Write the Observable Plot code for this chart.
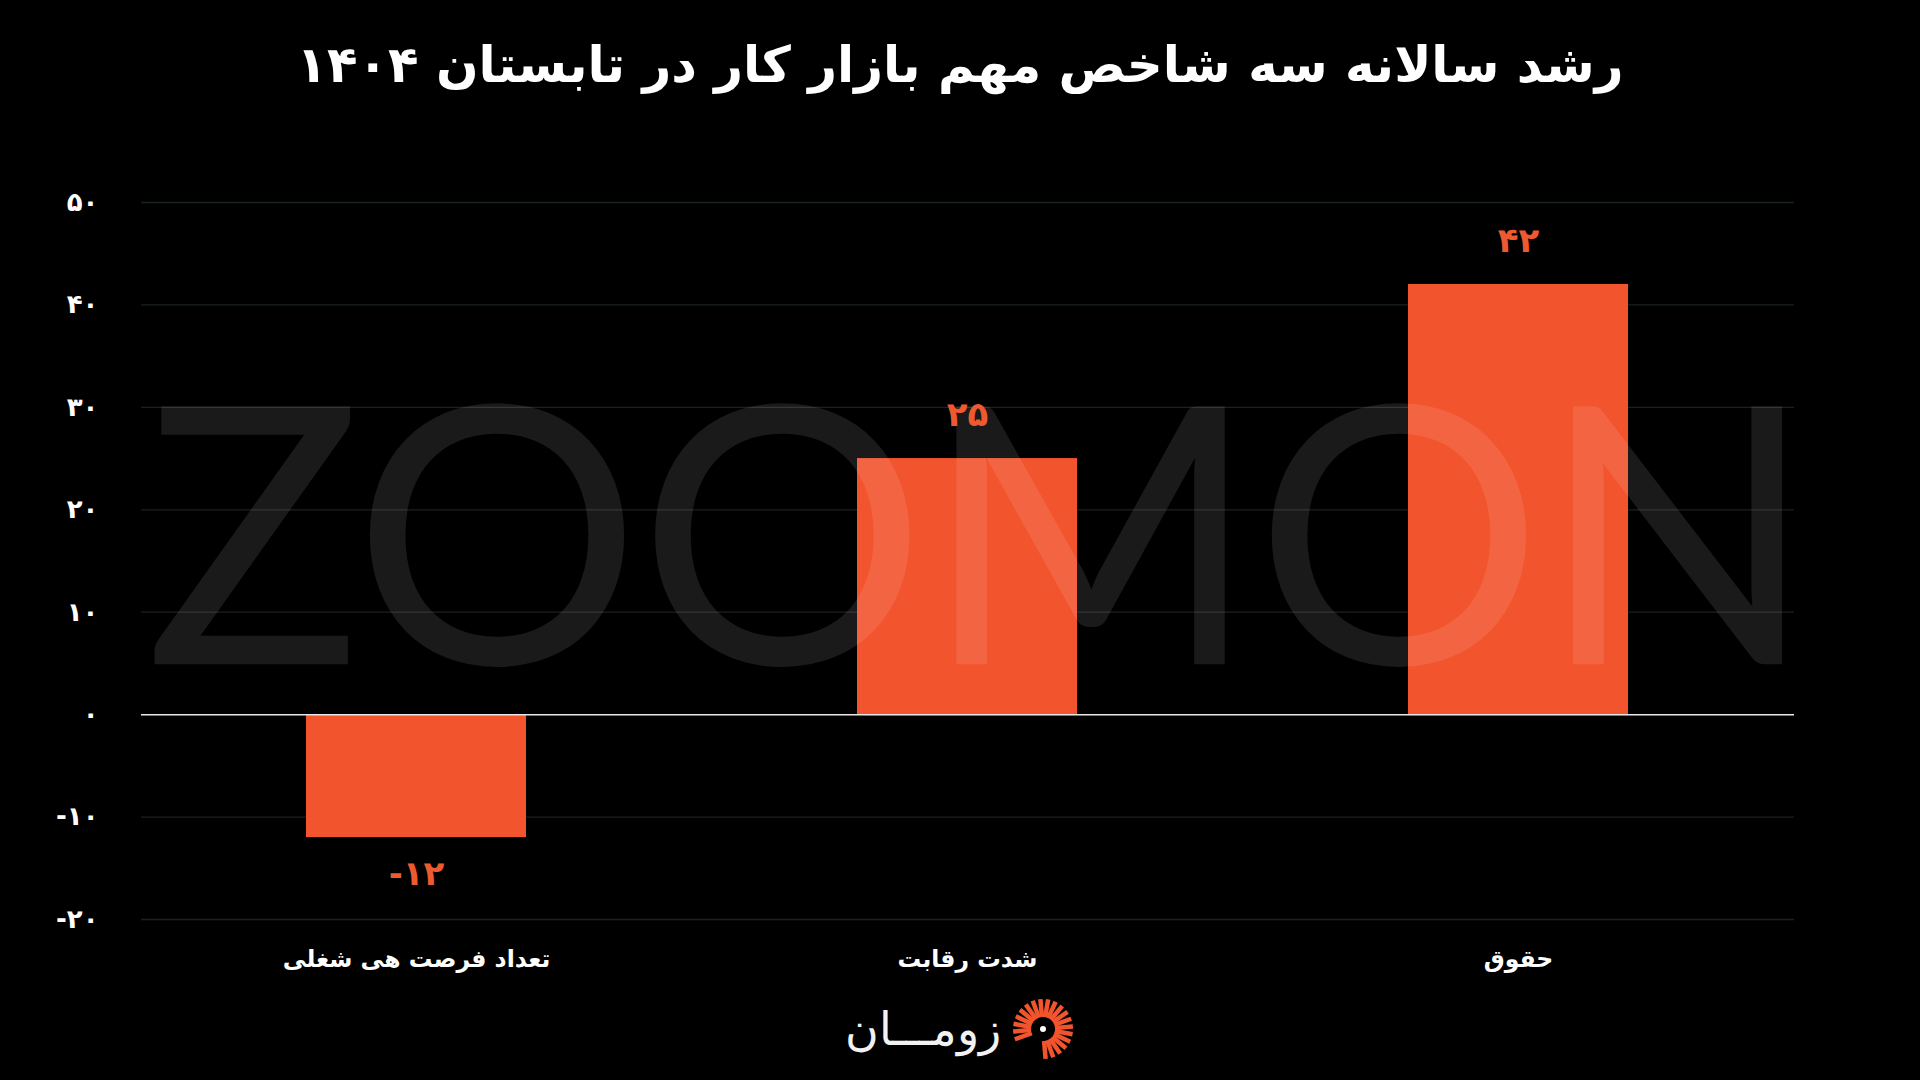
<!DOCTYPE html>
<html lang="fa">
<head>
<meta charset="utf-8">
<script src="https://cdn.jsdelivr.net/npm/d3@7"></script>
<script src="https://cdn.jsdelivr.net/npm/@observablehq/plot@0.6"></script>
<style>
  html, body { margin: 0; padding: 0; background: #000; }
  #page { position: relative; width: 1920px; height: 1080px; background: #000; overflow: hidden; font-family: "DejaVu Sans", sans-serif; }
  #title { height: 130px; display: flex; align-items: center; justify-content: center; color: #fff; font-weight: bold; font-size: 50px; direction: rtl; box-sizing: border-box; }
  #chart { position: absolute; top: 130px; left: 0; }
  #logo { position: absolute; top: 996px; left: 0; width: 1920px; height: 66px; display: flex; justify-content: center; align-items: center; gap: 10px; }
  #logo .word { color: #f2f2f2; font-size: 46px; font-weight: 300; font-family: "DejaVu Sans", sans-serif; direction: rtl; line-height: 1; }
</style>
</head>
<body>
<div id="page">
  <div id="title">رشد سالانه سه شاخص مهم بازار کار در تابستان ۱۴۰۴</div>
  <div id="chart"></div>
  <div id="logo"><span class="word">زومـــان</span><span id="icon"></span></div>
</div>
<script>
const categories = ["تعداد فرصت هی شغلی", "شدت رقابت", "حقوق"];
const values = [-12, 25, 42];
const yTicks = [-20, -10, 0, 10, 20, 30, 40, 50];
const watermark = "ZOOMON";

const data = categories.map((c, i) => ({category: c, value: values[i]}));
const fa = d => (d < 0 ? "-" : "") + String(Math.abs(d)).replace(/\d/g, c => "۰۱۲۳۴۵۶۷۸۹"[+c]);

const barColor = "#F2542D";
const labelColor = "#EE5A30";

const chart = Plot.plot({
  width: 1920,
  height: 860,
  marginTop: 72,
  marginBottom: 71,
  marginLeft: 141,
  marginRight: 126,
  style: {background: "transparent", color: "#fff", fontFamily: "DejaVu Sans, sans-serif"},
  x: {domain: categories, paddingInner: 0.6, paddingOuter: 0.3, axis: null},
  y: {domain: [-20, 50], axis: null},
  marks: [
    Plot.gridY(yTicks, {stroke: "#1a2125", strokeOpacity: 1, strokeWidth: 1.3}),
    Plot.barY(data, {x: "category", y: "value", fill: barColor}),
    Plot.ruleY([0], {stroke: "#e6e6e6", strokeWidth: 1.5}),
    Plot.text([watermark], {frameAnchor: "middle", dx: 12, dy: -12, text: d => d, fill: "#ffffff", fillOpacity: 0.1, fontSize: 360, fontWeight: 400, fontFamily: "Lato, sans-serif", className: "wm"}),
    Plot.axisY(yTicks, {label: null, tickSize: 0, tickPadding: 43, tickFormat: fa, fontSize: 26, fontWeight: "bold", fill: "#fff"}),
    Plot.axisX({label: null, tickSize: 0, tickPadding: 31, fontSize: 23.5, fontWeight: "bold", fill: "#fff"}),
    Plot.text(data.filter(d => d.value >= 0), {x: "category", y: "value", text: d => fa(d.value), dy: -43, fill: labelColor, fontSize: 34, fontWeight: "bold"}),
    Plot.text(data.filter(d => d.value < 0), {x: "category", y: "value", text: d => fa(d.value), dy: 37, fill: labelColor, fontSize: 34, fontWeight: "bold"})
  ]
});
document.getElementById("chart").appendChild(chart);

// stretch watermark letters across the frame
d3.select(chart).selectAll(".wm text")
  .attr("textLength", 1670)
  .attr("lengthAdjust", "spacing");

// logo icon
const s = 64, r0 = 12, r1 = 30;
const icon = d3.select("#icon").append("svg").attr("width", s).attr("height", s).style("display", "block");
const g = icon.append("g").attr("transform", `translate(${s/2},${s/2})`);
const angles = d3.range(-200, 95, 15);
g.selectAll("line").data(angles).join("line")
  .attr("x1", a => r0 * Math.cos(a * Math.PI / 180))
  .attr("y1", a => r0 * Math.sin(a * Math.PI / 180))
  .attr("x2", a => r1 * Math.cos(a * Math.PI / 180))
  .attr("y2", a => r1 * Math.sin(a * Math.PI / 180))
  .attr("stroke", barColor).attr("stroke-width", 4.5);
g.append("circle").attr("r", 3).attr("fill", "#fff");
</script>
</body>
</html>
